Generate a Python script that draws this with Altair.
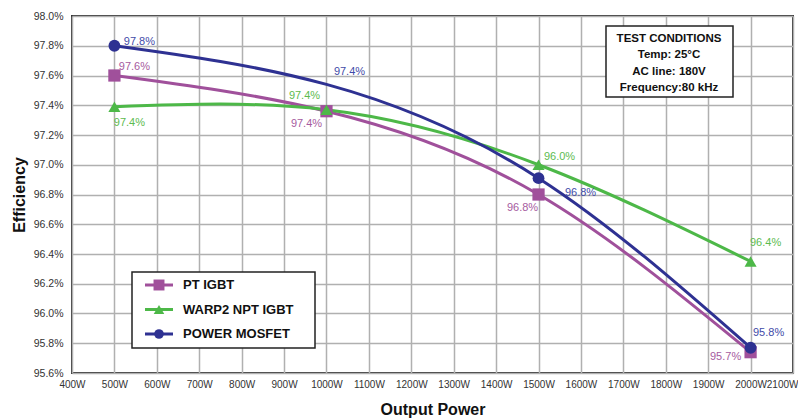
import altair as alt
import pandas as pd

# ---- data ----
powers = [500, 1000, 1500, 2000]
series_names = ["PT IGBT", "WARP2 NPT IGBT", "POWER MOSFET"]
pt_igbt = [97.60, 97.36, 96.80, 95.74]
warp2 = [97.39, 97.37, 97.00, 96.35]
mosfet = [97.80, 97.54, 96.91, 95.77]
pt_labels = ["97.6%", "97.4%", "96.8%", "95.7%"]
warp2_labels = ["97.4%", "97.4%", "96.0%", "96.4%"]
mosfet_labels = ["97.8%", "97.4%", "96.8%", "95.8%"]
pt_marker = [True, True, True, True]
warp2_marker = [True, True, True, True]
mosfet_marker = [True, False, True, True]
conditions = ["TEST CONDITIONS", "Temp: 25°C", "AC line: 180V", "Frequency:80 kHz"]
x_ticks = list(range(400, 2101, 100))
y_ticks = [round(95.6 + 0.2 * i, 1) for i in range(13)]

line_colors = ["#A0509B", "#4DB848", "#2E3192"]
label_colors = ["#A65BA0", "#5DBB4F", "#3F4BA8"]
shapes = ["square", "triangle-up", "circle"]
sizes = [150, 140, 115]

# label offsets (pixels) per series / point
offsets = {
    "PT IGBT": [(20, -9), (-20, 13), (-16, 13), (-25, 5)],
    "WARP2 NPT IGBT": [(15, 16), (-22, -14), (21, -8), (15, -18)],
    "POWER MOSFET": [(25, -4), (23, -12), (42, 15), (18, -15)],
}

FONT = "Liberation Sans Narrow, Liberation Sans, Arial, sans-serif"

rows = []
for name, vals, labs, mks in [
    ("PT IGBT", pt_igbt, pt_labels, pt_marker),
    ("WARP2 NPT IGBT", warp2, warp2_labels, warp2_marker),
    ("POWER MOSFET", mosfet, mosfet_labels, mosfet_marker),
]:
    for i, (p, v, l, m) in enumerate(zip(powers, vals, labs, mks)):
        rows.append({"series": name, "power": p, "eff": v, "label": l, "marker": m, "idx": i})
df = pd.DataFrame(rows)

xs = alt.Scale(domain=[400, 2100], nice=False, zero=False)
ys = alt.Scale(domain=[95.6, 98.0], nice=False, zero=False)
cs = alt.Scale(domain=series_names, range=line_colors)

X = alt.X("power:Q", scale=xs,
          axis=alt.Axis(values=x_ticks, labelExpr="datum.value + 'W'", title="Output Power",
                        labelOverlap=False, labelFlush=False, labelBound=False, labelFontSize=10,
                        labelAlign={"condition": {"test": "datum.value == 2100", "value": "right"},
                                    "value": "center"},
                        labelOffset={"condition": {"test": "datum.value == 2100", "value": 5},
                                     "value": 0}))
Y = alt.Y("eff:Q", scale=ys,
          axis=alt.Axis(values=y_ticks, labelExpr="format(datum.value, '.1f') + '%'", title="Efficiency",
                        labelOverlap=False, labelFlush=False))

base = alt.Chart(df)

lines = []
for name, col in zip(series_names, line_colors):
    lines.append(
        base.transform_filter(alt.datum.series == name)
        .mark_line(interpolate="natural", strokeWidth=3, color=col)
        .encode(x=X, y=Y)
    )

points = base.transform_filter(alt.datum.marker == True).mark_point(
    filled=True, opacity=1
).encode(
    x=X, y=Y,
    color=alt.Color("series:N", scale=cs, legend=None),
    shape=alt.Shape("series:N", scale=alt.Scale(domain=series_names, range=shapes), legend=None),
    size=alt.Size("series:N", scale=alt.Scale(domain=series_names, range=sizes), legend=None),
)

texts = []
for name, lc in zip(series_names, label_colors):
    for i, (dx, dy) in enumerate(offsets[name]):
        texts.append(
            base.transform_filter((alt.datum.series == name) & (alt.datum.idx == i))
            .mark_text(dx=dx, dy=dy, font=FONT, fontSize=11, color=lc)
            .encode(x=X, y=Y, text="label:N")
        )

one = alt.Chart(pd.DataFrame({"a": [0]}))

# Test-conditions box
cond_box = one.mark_rect(fill="white", stroke="#222", strokeWidth=1.5).encode(
    x=alt.value(534), x2=alt.value(661), y=alt.value(10), y2=alt.value(81)
)
cond_texts = []
for j, t in enumerate(conditions):
    cond_texts.append(
        one.mark_text(text=t, font=FONT, fontSize=11.5, fontWeight="bold", color="#111",
                      align="center", baseline="middle")
        .encode(x=alt.value(597), y=alt.value(23 + 16.3 * j))
    )

# Legend box
leg_box = one.mark_rect(fill="white", stroke="#222", strokeWidth=1.5).encode(
    x=alt.value(60), x2=alt.value(243), y=alt.value(256), y2=alt.value(332)
)
leg_layers = []
for j, (name, col, shp, sz) in enumerate(zip(series_names, line_colors, shapes, sizes)):
    yy = 269 + 24.5 * j
    leg_layers.append(one.mark_rule(strokeWidth=3, color=col).encode(
        x=alt.value(73), x2=alt.value(101), y=alt.value(yy)))
    leg_layers.append(one.mark_point(filled=True, opacity=1, color=col, shape=shp, size=sz * 0.8).encode(
        x=alt.value(87), y=alt.value(yy)))
    leg_layers.append(one.mark_text(text=name, font=FONT, fontSize=13, fontWeight="bold", color="#111",
                                    align="left", baseline="middle").encode(
        x=alt.value(111), y=alt.value(yy)))

chart = alt.layer(
    *lines, points, *texts, cond_box, *cond_texts, leg_box, *leg_layers
).properties(
    width=721, height=357,
    autosize=alt.AutoSizeParams(type="none"),
    padding={"left": 64, "top": 8, "right": 5, "bottom": 45},
).configure_view(
    stroke="#333", strokeWidth=2
).configure_axis(
    grid=True, gridColor="#b0b0b0", gridWidth=1.5, domain=False, ticks=False,
    labelFont=FONT, labelFontSize=10.5, labelColor="#333",
    titleFont=FONT, titleFontSize=16, titleFontWeight="bold", titleColor="#111",
).configure_axisY(labelPadding=9, titlePadding=6).configure_axisX(labelPadding=6, titlePadding=12)

chart.save("out.html", embed_options={"renderer": "svg", "actions": False})
